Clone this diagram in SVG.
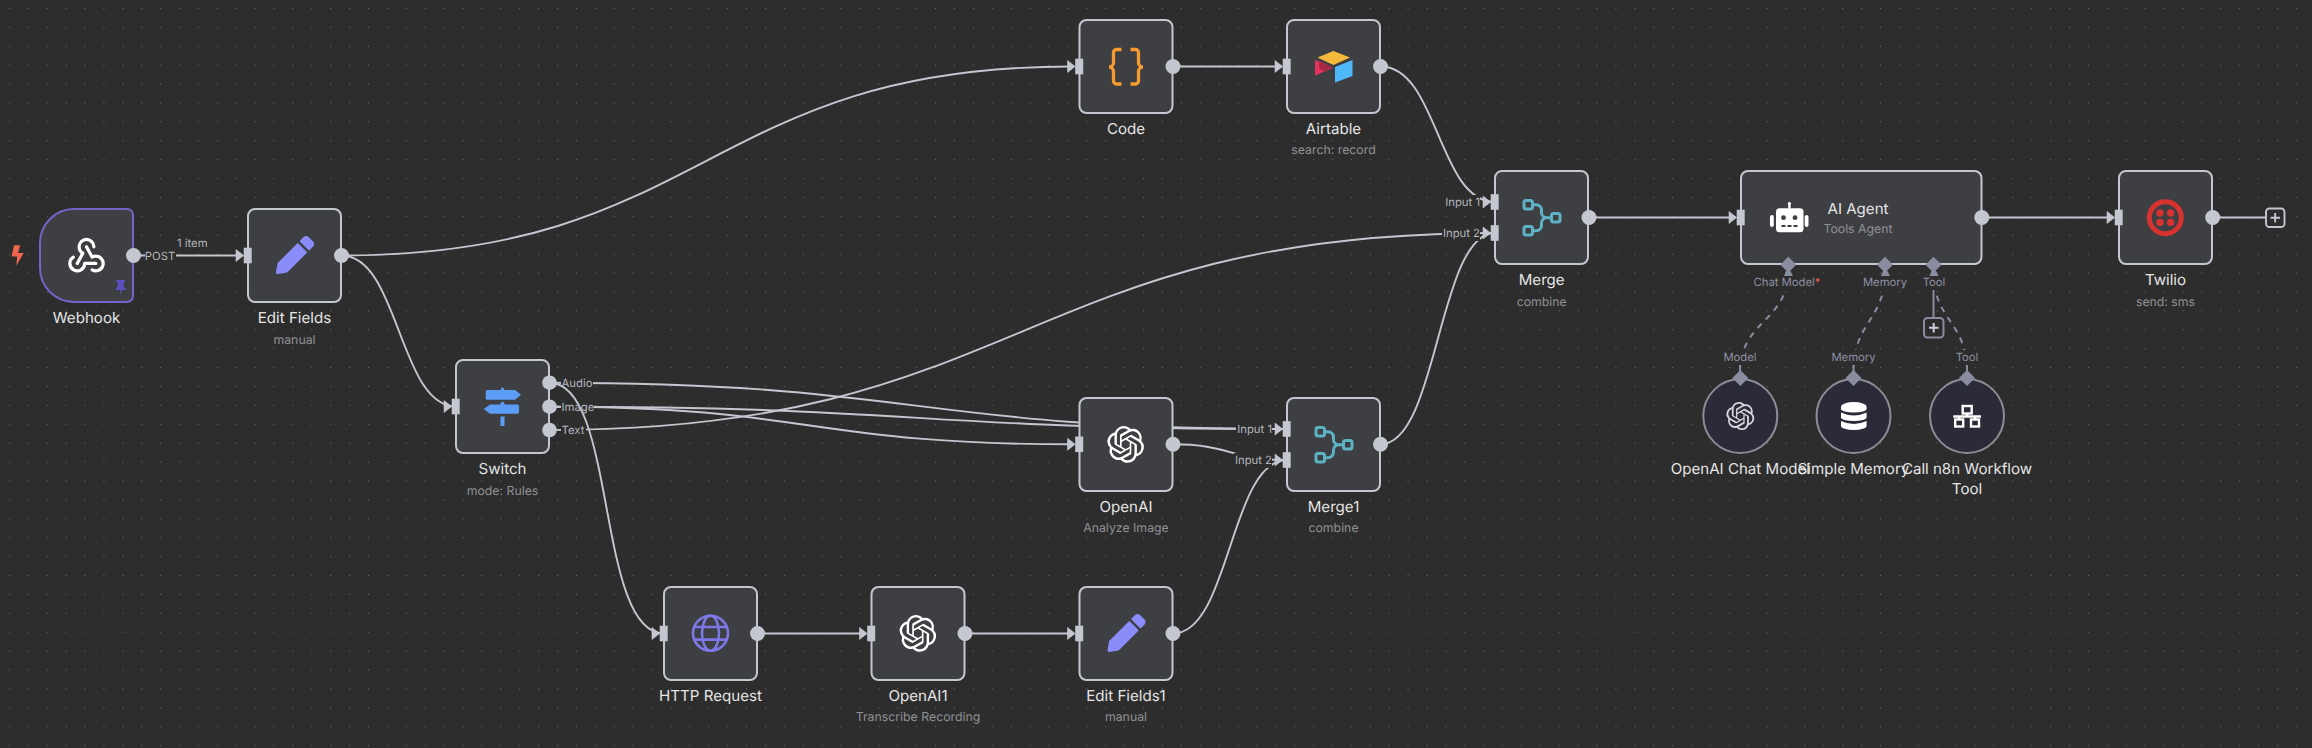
<svg xmlns="http://www.w3.org/2000/svg" width="2312" height="748" viewBox="0 0 2312 748">
<style>
text{font-family:Inter,"Noto Sans","Liberation Sans",sans-serif;text-rendering:geometricPrecision}
.edge{fill:none;stroke:#c4c7d0;stroke-width:1.9}
.dash{fill:none;stroke:#8a8ca0;stroke-width:2;stroke-dasharray:6 6}
.sol{fill:none;stroke:#8a8ca0;stroke-width:2}
.lb{fill:#2d2d2d}
.card{fill:#3e3f43;stroke:#c4c7d0;stroke-width:2}
.name{font-size:15.1px;fill:#e6e6e6;text-anchor:middle}
.sub{font-size:12.3px;fill:#8f9094;text-anchor:middle}
.port{font-size:11.3px;fill:#b4b6bd}
.sport{font-size:11.3px;fill:#8d8fa3;text-anchor:middle}
.out{fill:#c4c7d0}
.sub-node{fill:#2a2a38;stroke:#8c8c96;stroke-width:2}
.dia{fill:#8a8ca0}
.pen{fill:#8a8cf9}
.merge{fill:none;stroke:#5db3c5;stroke-width:3}
</style>
<defs>
<pattern id="grid" patternUnits="userSpaceOnUse" x="0" y="0" width="18.9" height="18.9"><circle cx="9.5" cy="8.5" r="0.55" fill="#808080"/></pattern>
<g id="in"><rect x="-4.3" y="-7.8" width="8" height="15.6" fill="#c4c7d0"/><path d="M-12-6L-4.3 0L-12 6Z" fill="#c4c7d0" stroke="#c4c7d0" stroke-width="0.6" stroke-linejoin="round"/></g>
<path id="oai" d="M22.2819 9.8211a5.9847 5.9847 0 0 0-.5157-4.9108 6.0462 6.0462 0 0 0-6.5098-2.9A6.0651 6.0651 0 0 0 4.9807 4.1818a5.9847 5.9847 0 0 0-3.9977 2.9 6.0462 6.0462 0 0 0 .7427 7.0966 5.98 5.98 0 0 0 .511 4.9107 6.051 6.051 0 0 0 6.5146 2.9001A5.9847 5.9847 0 0 0 13.2599 24a6.0557 6.0557 0 0 0 5.7718-4.2058 5.9894 5.9894 0 0 0 3.9977-2.9001 6.0557 6.0557 0 0 0-.7475-7.0729zm-9.022 12.6081a4.4755 4.4755 0 0 1-2.8764-1.0408l.1419-.0804 4.7783-2.7582a.7948.7948 0 0 0 .3927-.6813v-6.7369l2.02 1.1686a.071.071 0 0 1 .038.052v5.5826a4.504 4.504 0 0 1-4.4945 4.4944zm-9.6607-4.1254a4.4708 4.4708 0 0 1-.5346-3.0137l.142.0852 4.783 2.7582a.7712.7712 0 0 0 .7806 0l5.8428-3.3685v2.3324a.0804.0804 0 0 1-.0332.0615L9.74 19.9502a4.4992 4.4992 0 0 1-6.1408-1.6464zM2.3408 7.8956a4.485 4.485 0 0 1 2.3655-1.9728V11.6a.7664.7664 0 0 0 .3879.6765l5.8144 3.3543-2.0201 1.1685a.0757.0757 0 0 1-.071 0l-4.8303-2.7865A4.504 4.504 0 0 1 2.3408 7.872zm16.5963 3.8558L13.1038 8.364 15.1192 7.2a.0757.0757 0 0 1 .071 0l4.8303 2.7913a4.4944 4.4944 0 0 1-.6765 8.1042v-5.6772a.79.79 0 0 0-.407-.667zm2.0107-3.0231l-.142-.0852-4.7735-2.7818a.7759.7759 0 0 0-.7854 0L9.409 9.2297V6.8974a.0662.0662 0 0 1 .0284-.0615l4.8303-2.7866a4.4992 4.4992 0 0 1 6.6802 4.66zM8.3065 12.863l-2.02-1.1638a.0804.0804 0 0 1-.038-.0567V6.0742a4.4992 4.4992 0 0 1 7.3757-3.4537l-.142.0805L8.704 5.459a.7948.7948 0 0 0-.3927.6813zm1.0976-2.3654l2.602-1.4998 2.6069 1.4998v2.9994l-2.5974 1.4997-2.6067-1.4997Z"/>
<path id="pencil" d="M497.9 142.1l-46.1 46.1c-4.7 4.7-12.3 4.7-17 0l-111-111c-4.7-4.7-4.7-12.3 0-17l46.1-46.1c18.7-18.7 49.1-18.7 67.9 0l60.1 60.1c18.8 18.7 18.8 49.1 0 67.9zM284.2 99.8L21.6 362.4.4 483.9c-2.9 16.4 11.4 30.6 27.8 27.8l121.5-21.3 262.6-262.6c4.3-4.3 4.3-11.3 0-15.6l-111.1-111c-4.5-4.5-11.6-4.5-16 0z"/>
<g id="diaN"><path d="M0-8L8 0L0 8L-8 0Z"/></g>
</defs>
<rect width="2312" height="748" fill="#2d2d2d"/>
<rect width="2312" height="748" fill="url(#grid)"/>

<g id="connectors">
<path class="edge" d="M134 255.5H240"/>
<path class="edge" d="M341.5 255.5C706 255.5 706 66.5 1071 66.5"/>
<path class="edge" d="M341.5 255.5C399 255.5 399 406.5 456 406.5"/>
<path class="edge" d="M1173 66.5H1280"/>
<path class="edge" d="M1380.5 66.5C1438 66.5 1438 202 1495 202"/>
<path class="edge" d="M1589 217.5H1733"/>
<path class="edge" d="M1982 217.5H2111"/>
<path class="edge" d="M2213 217.5H2265"/>
<path class="edge" d="M549.5 382.7C918 382.7 918 429 1287 429"/>
<path class="edge" d="M549.5 406.7C918 406.7 918 429 1287 429"/>
<path class="edge" d="M549.5 406.7C810 406.7 810 444.3 1072 444.3"/>
<path class="edge" d="M549.5 430C1022 430 1022 233 1495 233"/>
<path class="edge" d="M1173 444.3C1230 444.3 1230 460 1287 460"/>
<path class="edge" d="M1380.5 444.3C1438 444.3 1438 233 1495 233"/>
<path class="edge" d="M1173 633.5C1230 633.5 1230 460 1287 460"/>
<path class="edge" d="M757.5 633.5H864"/>
<path class="edge" d="M965.5 633.5H1072"/>
<path class="dash" d="M1788 272C1788 321 1740 321 1740 372"/>
<path class="dash" d="M1885 272C1885 321 1853.5 321 1853.5 372"/>
<path class="dash" d="M1933.5 272C1933.5 321 1967 321 1967 372"/>
<path class="sol" d="M1933.5 288V318"/>
<path class="sol" d="M1740 364V372M1853.5 364V372M1967 364V372"/>
<rect class="lb" x="145" y="248" width="31" height="15"/>
<rect class="lb" x="561" y="375" width="32" height="15"/>
<rect class="lb" x="561" y="399" width="33" height="15"/>
<rect class="lb" x="561" y="423" width="25" height="15"/>
<rect class="lb" x="1444" y="195" width="36" height="15"/>
<rect class="lb" x="1442" y="226" width="38" height="15"/>
<rect class="lb" x="1236" y="422" width="36" height="15"/>
<rect class="lb" x="1234" y="453" width="38" height="15"/>
<rect class="lb" x="1755" y="275" width="67" height="15"/>
<rect class="lb" x="1863" y="275" width="44" height="15"/>
<rect class="lb" x="1922" y="275" width="24" height="15"/>
<rect class="lb" x="1722" y="350" width="36" height="15"/>
<rect class="lb" x="1831" y="350" width="45" height="15"/>
<rect class="lb" x="1955" y="350" width="24" height="15"/>
<path class="edge" d="M549.5 382.7C617 382.7 596 633.5 664 633.5"/>
</g>

<g id="edge-labels">
<text class="port" x="160" y="259.6" text-anchor="middle">POST</text>
<text class="port" x="192.3" y="247" text-anchor="middle">1 item</text>
<text class="port" x="561.5" y="386.8">Audio</text>
<text class="port" x="561.5" y="410.8">Image</text>
<text class="port" x="561.5" y="434.1">Text</text>
<text class="port" x="1480" y="206.1" text-anchor="end">Input 1</text>
<text class="port" x="1480" y="237.1" text-anchor="end">Input 2</text>
<text class="port" x="1272" y="433.1" text-anchor="end">Input 1</text>
<text class="port" x="1272" y="464.1" text-anchor="end">Input 2</text>
<text class="sport" x="1787" y="286.1">Chat Model<tspan fill="#e85d5d">*</tspan></text>
<text class="sport" x="1885" y="286.1">Memory</text>
<text class="sport" x="1934" y="286.1">Tool</text>
<text class="sport" x="1740" y="361.1">Model</text>
<text class="sport" x="1853.5" y="361.1">Memory</text>
<text class="sport" x="1967" y="361.1">Tool</text>
</g>

<g id="lightning"><path d="M14 245.3H20.2L18 253H23.7L16.3 265.7L17.2 256.5H11.5Z" fill="#f0654e"/></g>

<g id="node-webhook">
<path d="M74 209H127a6 6 0 0 1 6 6V296a6 6 0 0 1-6 6H74A34 34 0 0 1 40 268V243A34 34 0 0 1 74 209Z" fill="#3e3f43" stroke="#7264c8" stroke-width="2"/>
<g transform="translate(64.3 232) scale(1.85)" fill="none" stroke="#fff" stroke-width="1.75" stroke-linecap="round" stroke-linejoin="round"><path d="M4.876 13.61a4 4 0 1 0 6.124 3.39h6"/><path d="M15.066 20.502a4 4 0 1 0 1.934 -7.502c-.706 0 -1.424 .179 -2 .5l-3 -5.5"/><path d="M16 8a4 4 0 1 0 -8 0c0 1.506 .77 2.818 2 3.5l-3 5.5"/></g>
<path d="M116.5 280H125V282H123.5L124 287L126.5 290H121.6L120.8 295.5L120 290H115L117.5 287L118 282H116.5Z" fill="#5c50c0"/>
<circle class="out" cx="133.5" cy="255.5" r="7.5"/>
<text class="name" x="86.5" y="323">Webhook</text>
</g>

<g id="node-edit-fields">
<rect class="card" x="248" y="209" width="93" height="93" rx="7"/>
<use href="#in" x="248" y="255.5"/>
<use href="#pencil" class="pen" transform="translate(276 236) scale(0.0745)"/>
<circle class="out" cx="341.5" cy="255.5" r="7.5"/>
<text class="name" x="294.5" y="323">Edit Fields</text>
<text class="sub" x="294.5" y="343.5">manual</text>
</g>

<g id="node-switch">
<rect class="card" x="456" y="360" width="93" height="93" rx="7"/>
<use href="#in" x="456" y="406.5"/>
<g fill="#5c9cf5"><path d="M500.5 389.5L502.5 387L504.5 389.5V390H515L521 394.8L515 399.7H487Q485.7 399.7 485.7 398V392Q485.7 390 487 390H500.5Z"/><path d="M500.5 404.5V403L502.5 401.5L504.5 403V404.5H517.5Q519 404.5 519 406V412Q519 413.8 517.5 413.8H490L483.7 409L490 404.5Z"/><rect x="500.5" y="416.5" width="4" height="9.5"/></g>
<circle class="out" cx="549.5" cy="382.7" r="7.3"/>
<circle class="out" cx="549.5" cy="406.7" r="7.3"/>
<circle class="out" cx="549.5" cy="430" r="7.3"/>
<text class="name" x="502.5" y="474">Switch</text>
<text class="sub" x="502.5" y="494.5">mode: Rules</text>
</g>

<g id="node-code">
<rect class="card" x="1079.5" y="20" width="93" height="93" rx="7"/>
<use href="#in" x="1079.5" y="66.5"/>
<g fill="none" stroke="#f59b2f" stroke-width="3.3"><path d="M1121.5 49.5h-5a3 3 0 0 0-3 3v10a4.5 4.500 0 0 1-4.500 4.500a4.500 4.500 0 0 1 4.500 4.500V81a3 3 0 0 0 3 3h5"/><path d="M1130.500 49.5h5a3 3 0 0 1 3 3v10a4.500 4.500 0 0 0 4.500 4.500a4.500 4.500 0 0 0-4.500 4.500V81a3 3 0 0 1-3 3h-5"/></g>
<circle class="out" cx="1173" cy="66.5" r="7.5"/>
<text class="name" x="1126" y="133.5">Code</text>
</g>

<g id="node-airtable">
<rect class="card" x="1287" y="20" width="93" height="93" rx="7"/>
<use href="#in" x="1287" y="66.5"/>
<path d="M1333.5 51L1350 57.5L1333.5 65L1317.5 57.5Z" fill="#f5b93c"/>
<path d="M1335 67L1352.5 60V76L1335 82.5Z" fill="#4fb8f9"/>
<path d="M1315 60L1333 68L1315 75.5Z" fill="#e8335f"/>
<path d="M1319 60.5L1333 67.5L1324 71.5L1319 68Z" fill="#a62a45"/>
<circle class="out" cx="1380.5" cy="66.5" r="7.5"/>
<text class="name" x="1333.5" y="133.5">Airtable</text>
<text class="sub" x="1333.5" y="154.3">search: record</text>
</g>

<g id="node-merge">
<rect class="card" x="1495" y="171" width="93" height="93" rx="7"/>
<use href="#in" x="1495" y="202"/>
<use href="#in" x="1495" y="233"/>
<g class="merge"><rect x="1524" y="200.5" width="8.5" height="8.5" rx="2"/><rect x="1524" y="226.5" width="8.5" height="8.5" rx="2"/><rect x="1551.5" y="213.5" width="8.5" height="8.5" rx="2"/><path d="M1532.5 204.7H1536a5.5 5.5 0 0 1 5.5 5.5V212.5a5.3 5.3 0 0 0 5.3 5.3H1551.5M1532.5 230.7H1536a5.5 5.5 0 0 0 5.5-5.5V223a5.3 5.3 0 0 1 5.3-5.3"/></g>
<circle class="out" cx="1589" cy="217.5" r="7.5"/>
<text class="name" x="1541.7" y="285">Merge</text>
<text class="sub" x="1541.7" y="305.5">combine</text>
</g>

<g id="node-ai-agent">
<rect class="card" x="1741" y="171" width="240.5" height="93" rx="7"/>
<use href="#in" x="1741" y="217.5"/>
<g fill="#fff"><rect x="1776" y="208.3" width="27.5" height="24" rx="3.5"/><rect x="1770" y="215" width="3.8" height="12" rx="1.9"/><rect x="1804.7" y="215" width="3.8" height="12" rx="1.9"/><rect x="1788.2" y="202.7" width="2.4" height="6"/><circle cx="1789.4" cy="203.5" r="1.5"/></g>
<g fill="#3e3f43"><circle cx="1783.5" cy="217.7" r="2.4"/><circle cx="1795" cy="217.7" r="2.4"/><rect x="1781.5" y="225" width="4" height="2"/><rect x="1787.5" y="225" width="4" height="2"/><rect x="1793.5" y="225" width="4" height="2"/></g>
<text class="name" x="1858" y="213.5">AI Agent</text>
<text class="sub" x="1858" y="233">Tools Agent</text>
<g class="dia"><use href="#diaN" x="1788.3" y="264.7"/><use href="#diaN" x="1885" y="264.7"/><use href="#diaN" x="1933.5" y="264.7"/><path d="M1786 271H1790.5L1793 276H1784ZM1883 271H1887.5L1890 276H1881ZM1931.5 271H1936L1938.5 276H1929.5Z"/></g>
<circle class="out" cx="1981.8" cy="217.5" r="7.5"/>
</g>

<g id="node-twilio">
<rect class="card" x="2119" y="171" width="93" height="93" rx="7"/>
<use href="#in" x="2119" y="217.5"/>
<circle cx="2165.3" cy="217.7" r="16" fill="none" stroke="#d6322f" stroke-width="5"/>
<g fill="#d6322f"><circle cx="2160" cy="213" r="3.7"/><circle cx="2170.6" cy="213" r="3.7"/><circle cx="2160" cy="222.4" r="3.7"/><circle cx="2170.6" cy="222.4" r="3.7"/></g>
<circle class="out" cx="2212.7" cy="217.5" r="7.5"/>
<text class="name" x="2165.5" y="285">Twilio</text>
<text class="sub" x="2165.5" y="305.5">send: sms</text>
</g>

<g id="add-twilio"><rect x="2266" y="208.5" width="18.5" height="18.5" rx="3.5" fill="#2d2d2d" stroke="#c4c7d0" stroke-width="1.9"/><path d="M2275.2 213V222.5M2270.5 217.7H2280" stroke="#c4c7d0" stroke-width="1.9"/></g>
<g id="add-tool"><rect x="1924" y="318" width="19.5" height="19.5" rx="3.5" fill="#2d2d2d" stroke="#8a8ca0" stroke-width="2"/><path d="M1933.7 323V332.5M1929 327.7H1938.5" stroke="#d0d0dc" stroke-width="2"/></g>

<g id="node-openai">
<rect class="card" x="1079.5" y="398" width="93" height="93" rx="7"/>
<use href="#in" x="1079.5" y="444.3"/>
<use href="#oai" fill="#fff" transform="translate(1107.3 426) scale(1.53)"/>
<circle class="out" cx="1173" cy="444.3" r="7.5"/>
<text class="name" x="1126" y="511.5">OpenAI</text>
<text class="sub" x="1126" y="532">Analyze Image</text>
</g>

<g id="node-merge1">
<rect class="card" x="1287" y="398" width="93" height="93" rx="7"/>
<use href="#in" x="1287" y="429"/>
<use href="#in" x="1287" y="460"/>
<g class="merge"><rect x="1316" y="427.5" width="8.5" height="8.5" rx="2"/><rect x="1316" y="453.5" width="8.5" height="8.5" rx="2"/><rect x="1343.5" y="440.5" width="8.5" height="8.5" rx="2"/><path d="M1324.5 431.7H1328a5.5 5.5 0 0 1 5.5 5.5V439.5a5.3 5.3 0 0 0 5.3 5.3H1343.5M1324.5 457.7H1328a5.5 5.5 0 0 0 5.5-5.5V450a5.3 5.3 0 0 1 5.3-5.3"/></g>
<circle class="out" cx="1380.5" cy="444.3" r="7.5"/>
<text class="name" x="1333.5" y="511.5">Merge1</text>
<text class="sub" x="1333.5" y="532">combine</text>
</g>

<g id="node-http">
<rect class="card" x="664" y="587" width="93" height="93" rx="7"/>
<use href="#in" x="664" y="633.5"/>
<g fill="none" stroke="#7d78e8" stroke-width="2.6"><circle cx="710.5" cy="633.3" r="17.5"/><ellipse cx="710.5" cy="633.3" rx="8.5" ry="17.5"/><path d="M694 627H727M694 639.6H727"/></g>
<circle class="out" cx="757.5" cy="633.5" r="7.5"/>
<text class="name" x="710.5" y="700.5">HTTP Request</text>
</g>

<g id="node-openai1">
<rect class="card" x="871.5" y="587" width="93" height="93" rx="7"/>
<use href="#in" x="871.5" y="633.5"/>
<use href="#oai" fill="#fff" transform="translate(899.5 615) scale(1.53)"/>
<circle class="out" cx="965" cy="633.5" r="7.5"/>
<text class="name" x="918" y="700.5">OpenAI1</text>
<text class="sub" x="918" y="721">Transcribe Recording</text>
</g>

<g id="node-edit-fields1">
<rect class="card" x="1079.5" y="587" width="93" height="93" rx="7"/>
<use href="#in" x="1079.5" y="633.5"/>
<use href="#pencil" class="pen" transform="translate(1107.5 614) scale(0.0745)"/>
<circle class="out" cx="1173" cy="633.5" r="7.5"/>
<text class="name" x="1126" y="700.5">Edit Fields1</text>
<text class="sub" x="1126" y="721">manual</text>
</g>

<g id="node-chat-model">
<circle class="sub-node" cx="1740.3" cy="416" r="37"/>
<use href="#diaN" class="dia" x="1740.3" y="378"/>
<use href="#oai" fill="#d4d4d8" transform="translate(1726.3 402) scale(1.17)"/>
<text class="name" x="1740.3" y="474">OpenAI Chat Model</text>
</g>

<g id="node-memory">
<circle class="sub-node" cx="1853.5" cy="416" r="37"/>
<use href="#diaN" class="dia" x="1853.5" y="378"/>
<g fill="#fff"><path d="M1841 407a12.8 5 0 0 1 25.6 0V409a12.8 3.5 0 0 1-25.6 0Z"/><path d="M1841 412.5Q1853.8 418.5 1866.6 412.5V417.5a12.8 3.5 0 0 1-25.6 0Z"/><path d="M1841 421Q1853.8 427 1866.6 421V426a12.8 4 0 0 1-25.6 0Z"/></g>
<text class="name" x="1853.5" y="474">Simple Memory</text>
</g>

<g id="node-workflow-tool">
<circle class="sub-node" cx="1967" cy="416" r="37"/>
<use href="#diaN" class="dia" x="1967" y="378"/>
<g fill="none" stroke="#fff" stroke-width="2.4"><rect x="1962.7" y="406" width="9" height="7.5"/><rect x="1955.2" y="419.5" width="8" height="7"/><rect x="1971" y="419.5" width="8" height="7"/><path d="M1953.3 416.5H1981M1967.2 413.5V416.5M1959.2 416.5V419.5M1975 416.5V419.5"/></g>
<text class="name" x="1967" y="474">Call n8n Workflow</text>
<text class="name" x="1967" y="493.5">Tool</text>
</g>
</svg>
